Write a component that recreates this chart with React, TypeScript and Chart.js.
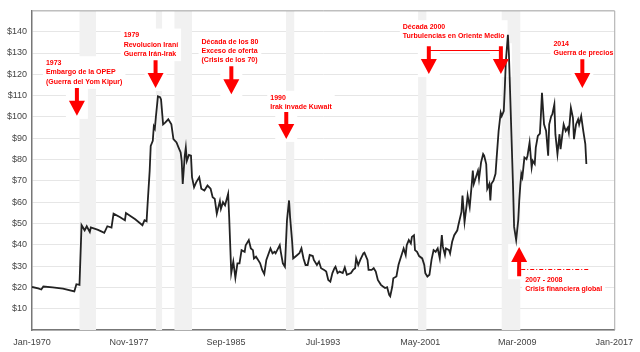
import { useEffect, useRef } from "react";
import { Chart, registerables } from "chart.js";

Chart.register(...registerables);

// months since Jan-1970
const months = [
  0, 6, 9, 11, 20, 30, 41, 43, 46, 48, 51, 53, 56, 57, 64, 70, 73, 77, 79, 85, 90, 91, 100, 107, 109, 111,
  112, 114, 115, 117, 118, 119, 120, 122, 124, 125, 127, 129, 132, 135, 137, 140, 142, 144, 145, 146, 148,
  149, 150, 152, 154, 155, 157, 159, 162, 164, 167, 170, 173, 175, 177, 179, 182, 183, 185, 187, 190, 191,
  193, 195, 197, 199, 201, 203, 206, 207, 210, 212, 214, 215, 217, 219, 221, 223, 225, 227, 231, 233, 235,
  236, 240, 241, 243, 245, 247, 249, 250, 252, 253, 255, 257, 259, 261, 263, 265, 267, 269, 272, 273, 276,
  278, 280, 283, 285, 287, 289, 291, 293, 294, 296, 298, 301, 303, 305, 309, 311, 313, 314, 316, 318, 321,
  322, 325, 326, 329, 331, 333, 335, 338, 340, 342, 344, 346, 347, 349, 350, 353, 355, 356, 358, 360, 362,
  363, 365, 367, 368, 370, 371, 373, 375, 378, 380, 381, 383, 385, 387, 389, 391, 393, 395, 397, 398, 400,
  401, 404, 405, 407, 409, 412, 413, 416, 417, 419, 421, 422, 424, 426, 427, 428, 430, 432, 433, 435, 437,
  438, 440, 441, 443, 444, 445, 447, 449, 450, 452, 454, 455, 457, 458, 459, 461, 462, 464, 466, 467, 469,
  471, 472, 473, 474, 475, 476, 477, 479, 480, 482, 484, 485, 487, 488, 490, 492, 493, 494, 496, 498, 500,
  501, 503, 504, 506, 507, 509, 511, 512, 514, 515, 517, 519, 520, 522, 524, 525, 527, 529, 530, 532, 534,
  536, 537,
];

// inflation-adjusted price, US$ per barrel
const prices = [
  20.2, 19.5, 19.0, 20.4, 20.0, 19.4, 18.1, 21.5, 21.2, 49.2, 46.8, 48.7, 46.0, 48.1, 47.0, 45.6, 48.7, 48.1,
  54.6, 53.0, 51.5, 54.9, 52.0, 49.2, 51.5, 51.0, 59.3, 74.8, 86.4, 88.8, 95.5, 94.5, 100.0, 109.7, 109.3,
  108.2, 96.5, 97.3, 98.9, 96.5, 89.6, 88.0, 85.6, 83.3, 79.4, 68.6, 81.8, 85.6, 79.4, 82.2, 81.8, 71.7, 67.0,
  69.3, 71.7, 66.3, 65.5, 67.8, 66.3, 62.3, 61.6, 54.6, 60.5, 56.9, 60.0, 58.5, 63.9, 53.0, 26.7, 32.1, 24.5,
  31.3, 31.3, 37.5, 36.7, 39.8, 42.2, 38.3, 37.5, 33.6, 34.4, 32.9, 31.3, 28.2, 26.3, 32.9, 38.3, 36.0, 36.7,
  36.0, 39.8, 36.7, 31.3, 29.7, 51.5, 60.8, 53.0, 41.4, 33.6, 34.4, 35.2, 36.0, 38.3, 33.6, 30.5, 30.5, 35.2,
  34.7, 32.9, 30.5, 32.1, 29.0, 28.2, 27.4, 23.5, 22.7, 26.7, 29.0, 29.7, 26.7, 27.4, 26.7, 29.4, 25.9, 26.7,
  28.2, 29.0, 33.6, 30.5, 32.9, 36.0, 36.3, 32.9, 28.2, 28.2, 29.0, 27.4, 23.5, 21.2, 20.4, 19.7, 20.1, 16.5,
  15.8, 20.4, 24.3, 25.1, 30.5, 32.1, 35.2, 38.3, 35.2, 39.8, 42.2, 40.6, 43.7, 44.5, 37.5, 36.7, 34.7, 33.6,
  30.5, 26.7, 25.1, 25.9, 32.9, 37.5, 36.7, 38.3, 33.6, 44.5, 39.1, 35.2, 38.3, 37.5, 36.0, 41.4, 44.5, 46.8,
  49.2, 55.4, 63.1, 50.7, 58.5, 63.1, 57.7, 68.6, 74.8, 68.6, 71.7, 74.8, 70.9, 78.7, 82.6, 81.8, 77.9, 66.3,
  68.6, 60.8, 68.6, 70.1, 73.3, 80.2, 93.4, 102.0, 100.4, 102.8, 113.6, 126.0, 138.5, 129.2, 98.1, 67.0, 48.4,
  42.2, 51.5, 60.8, 67.8, 73.3, 71.7, 76.3, 81.0, 80.2, 81.8, 88.0, 76.3, 79.4, 77.9, 85.6, 91.1, 92.2, 101.2,
  111.3, 96.5, 93.4, 81.8, 96.5, 100.4, 101.2, 105.9, 91.9, 82.6, 91.9, 84.9, 92.6, 96.5, 93.4, 95.0, 92.6,
  104.3, 99.6, 89.6, 96.5, 98.9, 96.5, 100.4, 93.4, 87.2, 77.9,
];

const xTickMonths = [0, 94, 188, 282, 376, 470, 564];
const xTickLabels = ["Jan-1970", "Nov-1977", "Sep-1985", "Jul-1993", "May-2001", "Mar-2009", "Jan-2017"];

// recession periods (start month, end month)
const recessionStarts = [46, 120, 138, 246, 374, 455];
const recessionEnds = [62, 126, 155, 254, 382, 473];

type Arrow = { m: number; from: number; to: number };
type Note = {
  lines: string[];
  m: number;
  v: number;
  arrows: Arrow[];
  connector?: { v: number; m0: number; m1: number };
  dashLine?: { v: number; m0: number; m1: number };
};

const notes: Note[] = [
  {
    lines: ["1973", "Embargo de la OPEP", "(Guerra del Yom Kipur)"],
    m: 13.5, v: 125.2,
    arrows: [{ m: 43.5, from: 113.6, to: 100.5 }],
  },
  {
    lines: ["1979", "Revolucion Iraní", "Guerra Irán-Irak"],
    m: 88.8, v: 138.2,
    arrows: [{ m: 119.7, from: 126.6, to: 113.6 }],
  },
  {
    lines: ["Década de los 80", "Exceso de oferta", "(Crisis de los 70)"],
    m: 164.2, v: 135.2,
    arrows: [{ m: 193.1, from: 123.8, to: 110.7 }],
  },
  {
    lines: ["1990", "Irak invade Kuwait"],
    m: 230.8, v: 109.0,
    arrows: [{ m: 246.3, from: 102.3, to: 89.7 }],
  },
  {
    lines: ["Década 2000", "Turbulencias en Oriente Medio"],
    m: 359.2, v: 142.1,
    arrows: [
      { m: 384.4, from: 133.2, to: 120.1 },
      { m: 454.2, from: 133.2, to: 120.1 },
    ],
    connector: { v: 131.2, m0: 384.4, m1: 454.2 },
  },
  {
    lines: ["2014", "Guerra de precios"],
    m: 505.1, v: 134.4,
    arrows: [{ m: 533.1, from: 127.1, to: 113.6 }],
  },
  {
    lines: ["2007 - 2008", "Crisis financiera global"],
    m: 477.7, v: 23.4,
    arrows: [{ m: 471.9, from: 25.2, to: 38.9 }],
    dashLine: { v: 28.8, m0: 473.9, m1: 540.5 },
  },
];

const RED = "#ff0000";
const NOTE_FONT = 'bold 7px "Liberation Sans", Arial, sans-serif';
const LINE_H = 9.3;

function drawArrow(ctx: CanvasRenderingContext2D, x: number, y0: number, y1: number) {
  const s = y1 > y0 ? 1 : -1;
  const headH = 15;
  const headW = 8;
  const sw = 2;
  const yb = y1 - s * headH;
  ctx.beginPath();
  ctx.moveTo(x - sw, y0);
  ctx.lineTo(x + sw, y0);
  ctx.lineTo(x + sw, yb);
  ctx.lineTo(x + headW, yb);
  ctx.lineTo(x, y1);
  ctx.lineTo(x - headW, yb);
  ctx.lineTo(x - sw, yb);
  ctx.closePath();
  ctx.fillStyle = RED;
  ctx.fill();
}

const decorPlugin = {
  id: "decor",
  beforeDatasetsDraw(chart: any) {
    const { ctx, chartArea: a, scales } = chart;
    const xs = scales.x;
    const ys = scales.y;
    ctx.save();
    ctx.beginPath();
    ctx.rect(a.left, a.top, a.right - a.left, a.bottom - a.top);
    ctx.clip();
    ctx.fillStyle = "#f1f1f1";
    recessionStarts.forEach((s, i) => {
      const x0 = xs.getPixelForValue(s);
      const x1 = xs.getPixelForValue(recessionEnds[i]);
      ctx.fillRect(x0, a.top, x1 - x0, a.bottom - a.top);
    });
    // white backgrounds behind annotations
    ctx.font = NOTE_FONT;
    ctx.fillStyle = "#ffffff";
    notes.forEach((n) => {
      const lx = xs.getPixelForValue(n.m);
      const ly = ys.getPixelForValue(n.v);
      const w = Math.max(...n.lines.map((l) => ctx.measureText(l).width));
      ctx.fillRect(lx - 3, ly - 7, w + 6, (n.lines.length - 1) * LINE_H + 14);
      n.arrows.forEach((ar) => {
        const x = xs.getPixelForValue(ar.m);
        const y0 = ys.getPixelForValue(ar.from);
        const y1 = ys.getPixelForValue(ar.to);
        ctx.fillRect(x - 11, Math.min(y0, y1) - 3, 22, Math.abs(y1 - y0) + 6);
      });
    });
    ctx.restore();
  },
  afterDatasetsDraw(chart: any) {
    const { ctx, chartArea: a, scales } = chart;
    const xs = scales.x;
    const ys = scales.y;
    ctx.save();
    // top and right frame
    ctx.strokeStyle = "#a8a8a8";
    ctx.lineWidth = 1;
    ctx.beginPath();
    ctx.moveTo(a.left, a.top + 0.5);
    ctx.lineTo(a.right + 0.5, a.top + 0.5);
    ctx.lineTo(a.right + 0.5, a.bottom);
    ctx.stroke();

    ctx.font = NOTE_FONT;
    ctx.textBaseline = "middle";
    ctx.textAlign = "left";
    notes.forEach((n) => {
      const lx = xs.getPixelForValue(n.m);
      const ly = ys.getPixelForValue(n.v);
      ctx.fillStyle = RED;
      n.lines.forEach((l, i) => ctx.fillText(l, lx, ly + i * LINE_H));
      n.arrows.forEach((ar) => {
        drawArrow(ctx, xs.getPixelForValue(ar.m), ys.getPixelForValue(ar.from), ys.getPixelForValue(ar.to));
      });
      if (n.connector) {
        const y = Math.round(ys.getPixelForValue(n.connector.v)) + 0.5;
        ctx.strokeStyle = RED;
        ctx.lineWidth = 1;
        ctx.beginPath();
        ctx.moveTo(xs.getPixelForValue(n.connector.m0), y);
        ctx.lineTo(xs.getPixelForValue(n.connector.m1), y);
        ctx.stroke();
      }
      if (n.dashLine) {
        const y = Math.round(ys.getPixelForValue(n.dashLine.v)) + 0.5;
        ctx.strokeStyle = RED;
        ctx.lineWidth = 1;
        ctx.setLineDash([4, 2, 1, 2]);
        ctx.beginPath();
        ctx.moveTo(xs.getPixelForValue(n.dashLine.m0), y);
        ctx.lineTo(xs.getPixelForValue(n.dashLine.m1), y);
        ctx.stroke();
        ctx.setLineDash([]);
      }
    });
    ctx.restore();
  },
};

export default function App() {
  const ref = useRef<HTMLCanvasElement | null>(null);

  useEffect(() => {
    document.body.style.margin = "0";
    const canvas = ref.current;
    if (!canvas) return;
    const chart = new Chart(canvas, {
      type: "line",
      data: {
        datasets: [
          {
            data: months.map((m, i) => ({ x: m, y: prices[i] })),
            borderColor: "#222222",
            borderWidth: 1.8,
            pointRadius: 0,
            tension: 0,
            fill: false,
          },
        ],
      },
      options: {
        responsive: false,
        animation: false,
        layout: { padding: { top: 9, right: 24, left: 0, bottom: 0 } },
        plugins: { legend: { display: false }, tooltip: { enabled: false } },
        scales: {
          x: {
            type: "linear",
            min: 0,
            max: 564,
            afterFit: (s: any) => {
              s.height = 22;
            },
            afterBuildTicks: (s: any) => {
              s.ticks = xTickMonths.map((v) => ({ value: v }));
            },
            grid: { display: false, drawTicks: false },
            border: { display: true, color: "#777777", width: 1.5 },
            ticks: {
              padding: 7,
              maxRotation: 0,
              autoSkip: false,
              color: "#444444",
              font: { family: '"Liberation Sans", Arial, sans-serif', size: 9 },
              callback: (v: any) => {
                const i = xTickMonths.indexOf(Number(v));
                return i >= 0 ? xTickLabels[i] : "";
              },
            },
          },
          y: {
            min: 0,
            max: 150,
            afterFit: (s: any) => {
              s.width = 32;
            },
            grid: { color: "#e6e6e6", lineWidth: 1, drawTicks: false },
            border: { display: true, color: "#777777", width: 1.5 },
            ticks: {
              stepSize: 10,
              padding: 5,
              color: "#444444",
              font: { family: '"Liberation Sans", Arial, sans-serif', size: 9 },
              callback: (v: any) => (v === 0 || v === 150 ? "" : "$" + v),
            },
          },
        },
      },
      plugins: [decorPlugin],
    });
    return () => chart.destroy();
  }, []);

  return <canvas ref={ref} width={640} height={352} style={{ display: "block" }} />;
}
